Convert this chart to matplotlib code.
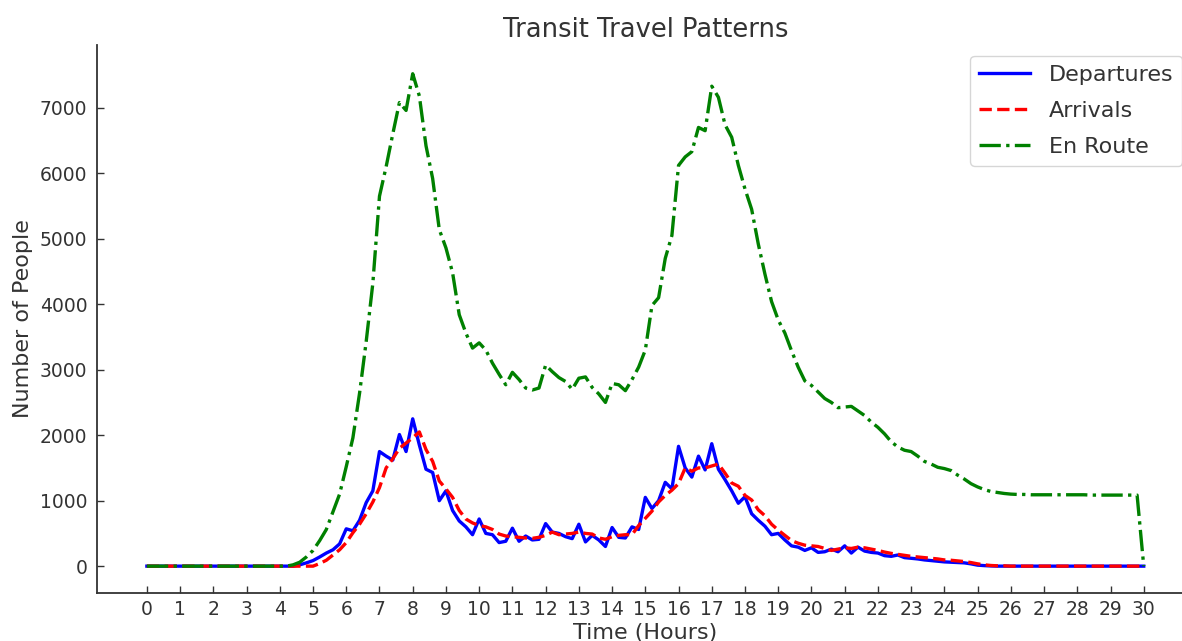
import numpy as np
import matplotlib
matplotlib.use("Agg")
import matplotlib.pyplot as plt

# Time of day in hours, sampled every 12 minutes
hours = np.round(np.arange(0, 30.0001, 0.2), 1)

departures = [
    0, 0, 0, 0, 0, 0, 0, 0, 0, 0,            # 0.0 - 1.8
    0, 0, 0, 0, 0, 0, 0, 0, 0, 0,            # 2.0 - 3.8
    0, 0, 0, 20, 50, 85, 140, 200, 250, 340,  # 4.0 - 5.8
    570, 540, 700, 970, 1150, 1750, 1680, 1620, 2010, 1750,  # 6.0 - 7.8
    2250, 1850, 1480, 1430, 1000, 1150, 850, 690, 600, 480,  # 8.0 - 9.8
    720, 500, 480, 360, 380, 580, 380, 460, 400, 410,        # 10.0 - 11.8
    650, 520, 500, 450, 420, 640, 370, 470, 400, 300,        # 12.0 - 13.8
    590, 440, 430, 600, 560, 1050, 880, 1000, 1280, 1180,    # 14.0 - 15.8
    1830, 1500, 1360, 1680, 1470, 1870, 1480, 1320, 1150, 960,  # 16.0 - 17.8
    1060, 800, 700, 610, 480, 500, 400, 310, 290, 240,       # 18.0 - 19.8
    280, 210, 220, 260, 220, 310, 200, 290, 230, 210,        # 20.0 - 21.8
    200, 160, 150, 170, 130, 120, 110, 95, 85, 75,           # 22.0 - 23.8
    65, 60, 55, 50, 35, 15, 8, 3, 0, 0,                      # 24.0 - 25.8
    0, 0, 0, 0, 0, 0, 0, 0, 0, 0,                            # 26.0 - 27.8
    0, 0, 0, 0, 0, 0, 0, 0, 0, 0,                            # 28.0 - 29.8
    0,                                                       # 30.0
]

arrivals = [
    0, 0, 0, 0, 0, 0, 0, 0, 0, 0,
    0, 0, 0, 0, 0, 0, 0, 0, 0, 0,
    0, 0, 0, 0, 0, 0, 40, 90, 170, 250,
    360, 510, 640, 800, 980, 1200, 1500, 1640, 1800, 1880,
    1960, 2050, 1780, 1600, 1300, 1180, 1050, 850, 720, 660,
    620, 600, 560, 490, 460, 450, 440, 430, 425, 440,
    470, 520, 480, 490, 500, 520, 500, 490, 430, 410,
    450, 470, 480, 480, 620, 730, 840, 980, 1080, 1160,
    1260, 1500, 1450, 1500, 1500, 1530, 1560, 1420, 1270, 1220,
    1080, 1010, 860, 770, 640, 550, 470, 390, 350, 320,
    310, 300, 270, 240, 260, 280, 270, 290, 280, 260,
    240, 215, 195, 180, 165, 150, 140, 130, 120, 110,
    95, 90, 80, 70, 55, 35, 20, 10, 5, 5,
    0, 0, 0, 0, 0, 0, 0, 0, 0, 0,
    0, 0, 0, 0, 0, 0, 0, 0, 0, 0,
    0,
]

en_route = [
    0, 0, 0, 0, 0, 0, 0, 0, 0, 0,
    0, 0, 0, 0, 0, 0, 0, 0, 0, 0,
    0, 0, 20, 60, 140, 240, 390, 560, 830, 1100,
    1520, 1960, 2640, 3430, 4320, 5650, 6100, 6600, 7080, 6960,
    7520, 7180, 6420, 5920, 5140, 4860, 4480, 3840, 3560, 3330,
    3410, 3300, 3100, 2930, 2770, 2960, 2850, 2720, 2690, 2720,
    3070, 2970, 2880, 2820, 2700, 2870, 2890, 2730, 2630, 2500,
    2790, 2770, 2680, 2850, 3040, 3300, 3980, 4100, 4700, 5050,
    6120, 6250, 6330, 6700, 6650, 7330, 7160, 6740, 6550, 6120,
    5760, 5450, 4920, 4460, 4040, 3760, 3560, 3290, 3040, 2830,
    2760, 2660, 2560, 2500, 2420, 2430, 2440, 2370, 2300, 2200,
    2120, 2020, 1900, 1820, 1770, 1750, 1680, 1600, 1560, 1510,
    1490, 1460, 1390, 1330, 1260, 1210, 1170, 1140, 1125, 1110,
    1100, 1095, 1095, 1090, 1090, 1090, 1090, 1090, 1090, 1090,
    1090, 1090, 1085, 1085, 1085, 1085, 1085, 1085, 1085, 1085,
    0,
]

hour_ticks = list(range(0, 31))

text_color = "#333333"
plt.rcParams["font.family"] = ["DejaVu Sans"]

fig = plt.figure(figsize=(11.82, 6.41), dpi=100)
ax = fig.add_axes([0.0821, 0.0749, 0.9277, 0.855])

ax.plot(hours, departures, color="blue", linestyle="-", linewidth=2.4,
        label="Departures")
ax.plot(hours, arrivals, color="red", linestyle="--", linewidth=2.4,
        label="Arrivals")
ax.plot(hours, en_route, color="green", linestyle="-.", linewidth=2.4,
        label="En Route")

ax.set_xticks(hour_ticks)
ax.set_xticklabels([str(h) for h in hour_ticks])
ax.set_xlim(-1.5, 31.5)
ax.set_ylim(-410, 7960)

ax.set_title("Transit Travel Patterns", fontsize=18.5, color=text_color, pad=6)
ax.set_xlabel("Time (Hours)", fontsize=16, color=text_color, labelpad=3)
ax.set_ylabel("Number of People", fontsize=16, color=text_color, labelpad=5)

ax.tick_params(axis="both", direction="in", colors=text_color,
               labelsize=13.5, length=5, width=1)
ax.tick_params(axis="y", pad=7)
ax.tick_params(axis="x", pad=5)

for side in ("top", "right"):
    ax.spines[side].set_visible(False)
for side in ("left", "bottom"):
    ax.spines[side].set_color(text_color)
    ax.spines[side].set_linewidth(1.3)

leg = ax.legend(loc="upper right", fontsize=16, frameon=True,
                borderaxespad=0.5, labelspacing=0.72, handlelength=2.3,
                handletextpad=0.85, fancybox=True)
leg.get_frame().set_edgecolor("#cccccc")
for t in leg.get_texts():
    t.set_color(text_color)

fig.savefig("out.png", dpi=100)
